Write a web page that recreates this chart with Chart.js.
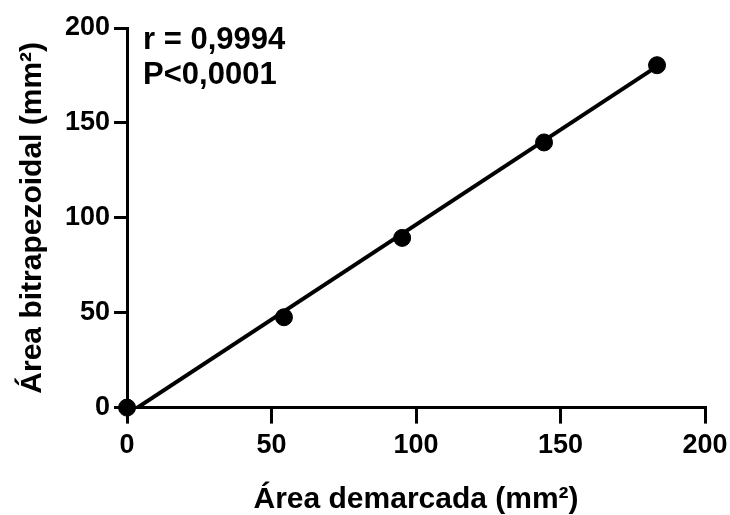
<!DOCTYPE html>
<html>
<head>
<meta charset="utf-8">
<script src="https://cdn.jsdelivr.net/npm/chart.js@4"></script>
<style>
  body { margin: 0; background: #fff; }
  #wrap { width: 730px; height: 515px; }
</style>
</head>
<body>
<div id="wrap"><canvas id="chart"></canvas></div>
<script>
// measured points
const areaDemarcada = [0, 54.3, 95.2, 144.3, 183.4];
const areaBitrapezoidal = [0, 47.6, 89.4, 139.7, 180.4];
// regression line end points
const fitX = [0, 183.4];
const fitY = [-3.6, 179.8];
const xTicks = [0, 50, 100, 150, 200];
const yTicks = [0, 50, 100, 150, 200];
const statsText = ['r = 0,9994', 'P<0,0001'];

const FONT = "'Liberation Sans', Arial, sans-serif";

const statsPlugin = {
    id: 'stats',
    afterDatasetsDraw(chart) {
        const ctx = chart.ctx;
        const area = chart.chartArea;
        ctx.save();
        ctx.fillStyle = '#000';
        ctx.font = 'bold 31px ' + FONT;
        ctx.textBaseline = 'middle';
        ctx.fillText(statsText[0], area.left + 16, area.top + 12);
        ctx.fillText(statsText[1], area.left + 16, area.top + 47);
        ctx.restore();
    }
};

const ctx = document.getElementById('chart').getContext('2d');
new Chart(ctx, {
    type: 'scatter',
    data: {
        datasets: [
            {
                type: 'line',
                data: fitX.map((x, i) => ({ x: x, y: fitY[i] })),
                borderColor: '#000',
                borderWidth: 4,
                pointRadius: 0,
                fill: false
            },
            {
                data: areaDemarcada.map((x, i) => ({ x: x, y: areaBitrapezoidal[i] })),
                backgroundColor: '#000',
                borderColor: '#000',
                pointRadius: 8.5,
                clip: false
            }
        ]
    },
    options: {
        responsive: true,
        maintainAspectRatio: false,
        animation: false,
        layout: { padding: { left: 11, right: 25, top: 28, bottom: 0 } },
        plugins: { legend: { display: false }, tooltip: { enabled: false } },
        scales: {
            x: {
                type: 'linear',
                min: 0, max: 200,
                afterBuildTicks: axis => { axis.ticks = xTicks.map(v => ({ value: v })); },
                afterFit: axis => { axis.paddingRight = 0; },
                grid: { drawOnChartArea: false, drawTicks: true, tickLength: 16, color: '#000', lineWidth: 3 },
                border: { color: '#000', width: 3 },
                ticks: { color: '#000', font: { family: FONT, size: 27, weight: 'bold' }, padding: 6 },
                title: { display: true, text: 'Área demarcada (mm²)', color: '#000', font: { family: FONT, size: 30, weight: 'bold', lineHeight: 1 }, padding: { top: 17, bottom: 0 } }
            },
            y: {
                type: 'linear',
                min: 0, max: 200,
                afterBuildTicks: axis => { axis.ticks = yTicks.map(v => ({ value: v })); },
                grid: { drawOnChartArea: false, drawTicks: true, tickLength: 13, color: '#000', lineWidth: 3 },
                border: { color: '#000', width: 3 },
                ticks: { color: '#000', font: { family: FONT, size: 27, weight: 'bold' }, padding: 4 },
                title: { display: true, text: 'Área bitrapezoidal (mm²)', color: '#000', font: { family: FONT, size: 30, weight: 'bold' }, padding: { bottom: 10 } }
            }
        }
    },
    plugins: [statsPlugin]
});
</script>
</body>
</html>
